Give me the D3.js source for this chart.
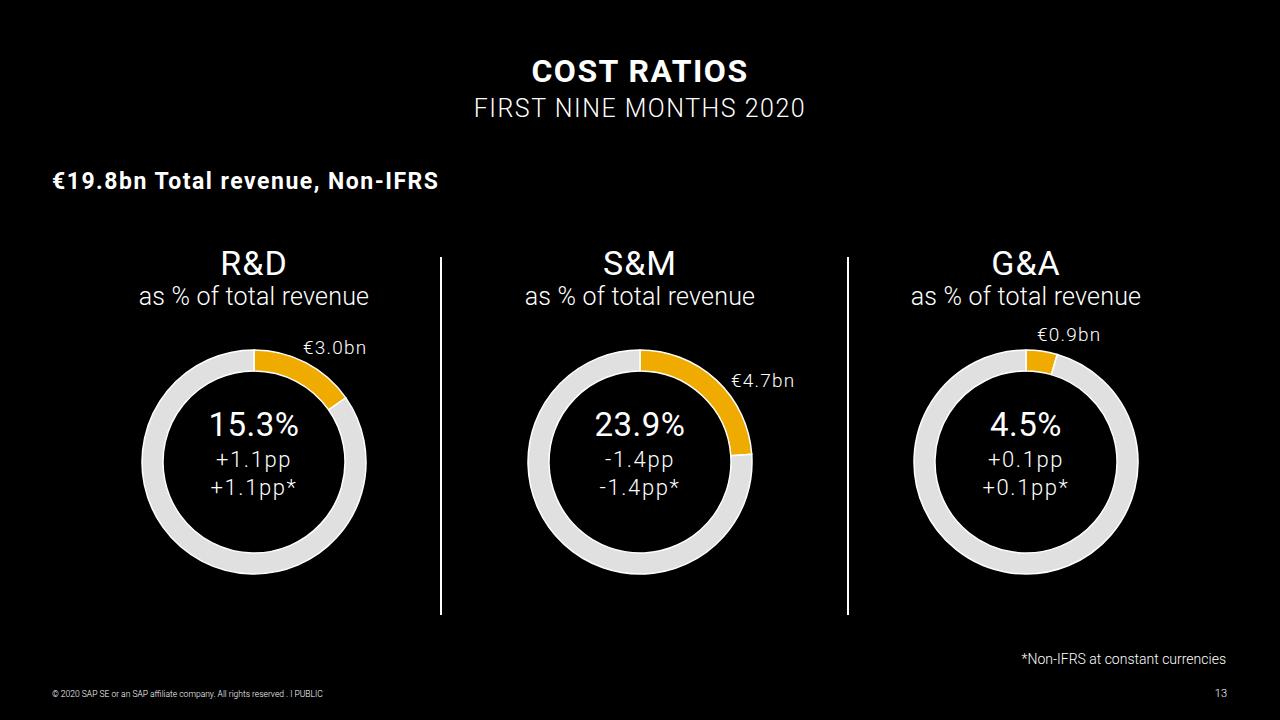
<!DOCTYPE html>
<html>
<head>
<meta charset="utf-8">
<script src="https://cdn.jsdelivr.net/npm/d3@7/dist/d3.min.js"></script>
<style>
  html, body { margin: 0; padding: 0; background: #000; }
  svg { display: block; font-family: Roboto, "Noto Sans", sans-serif; }
</style>
</head>
<body>
<svg id="chart" width="1280" height="720"></svg>
<script>
const categories = ["R&D", "S&M", "G&A"];
const ratios = [15.3, 23.9, 4.5];
const amounts = ["€3.0bn", "€4.7bn", "€0.9bn"];
const changes = ["+1.1pp", "-1.4pp", "+0.1pp"];
const changesCC = ["+1.1pp*", "-1.4pp*", "+0.1pp*"];

const svg = d3.select("#chart");
const W = 1280;

svg.append("rect").attr("width", W).attr("height", 720).attr("fill", "#000");

svg.append("text").attr("x", 640).attr("y", 82).attr("text-anchor", "middle")
  .attr("fill", "#fff").attr("font-size", 32).attr("font-weight", 700)
  .attr("letter-spacing", 1.5)
  .text("COST RATIOS");
svg.append("text").attr("x", 640).attr("y", 117).attr("text-anchor", "middle")
  .attr("fill", "#fff").attr("font-size", 25).attr("font-weight", 300)
  .attr("letter-spacing", 1.5)
  .text("FIRST NINE MONTHS 2020");

svg.append("text").attr("x", 52).attr("y", 189)
  .attr("fill", "#fff").attr("font-size", 23).attr("font-weight", 700)
  .attr("letter-spacing", 1.5)
  .text("€19.8bn Total revenue, Non-IFRS");

const x = d3.scalePoint().domain(categories).range([254, 1026]);
const cy = 462;
const outerR = 112, innerR = 91;

const pie = d3.pie().sort(null).value(d => d.v);
const arc = d3.arc().innerRadius(innerR).outerRadius(outerR);

// dividers
const dividerX = [441, 848];
dividerX.forEach(dx => {
  svg.append("line").attr("x1", dx).attr("x2", dx).attr("y1", 257).attr("y2", 615)
    .attr("stroke", "#fff").attr("stroke-width", 2);
});

const labelPos = [
  {x: 303, y: 354},
  {x: 731, y: 387},
  {x: 1037, y: 341}
];

categories.forEach((c, i) => {
  const cx = x(c);
  const g = svg.append("g");
  g.append("text").attr("x", cx).attr("y", 275).attr("text-anchor", "middle")
    .attr("fill", "#fff").attr("font-size", 34).attr("font-weight", 400)
    .attr("letter-spacing", 1).text(c);
  g.append("text").attr("x", cx).attr("y", 305).attr("text-anchor", "middle")
    .attr("fill", "#fff").attr("font-size", 25).attr("font-weight", 300)
    .attr("letter-spacing", 0.2).text("as % of total revenue");

  const dg = g.append("g").attr("transform", `translate(${cx},${cy})`);
  dg.selectAll("path").data(pie([{v: ratios[i], k: "a"}, {v: 100 - ratios[i], k: "b"}]))
    .join("path")
    .attr("d", arc)
    .attr("fill", d => d.data.k === "a" ? "#F0AB00" : "#E0E0E0")
    .attr("stroke", "#fff").attr("stroke-width", 1.5);

  g.append("text").attr("x", cx).attr("y", 436).attr("text-anchor", "middle")
    .attr("fill", "#fff").attr("font-size", 33).attr("font-weight", 400)
    .attr("letter-spacing", 0.5).text(ratios[i].toFixed(1) + "%");
  g.append("text").attr("x", cx).attr("y", 467).attr("text-anchor", "middle")
    .attr("fill", "#fff").attr("font-size", 22).attr("font-weight", 300)
    .attr("letter-spacing", 1.6).text(changes[i]);
  g.append("text").attr("x", cx).attr("y", 495).attr("text-anchor", "middle")
    .attr("fill", "#fff").attr("font-size", 22).attr("font-weight", 300)
    .attr("letter-spacing", 1.6).text(changesCC[i]);

  g.append("text").attr("x", labelPos[i].x).attr("y", labelPos[i].y).attr("text-anchor", "start")
    .attr("fill", "#fff").attr("font-size", 19).attr("font-weight", 300)
    .attr("letter-spacing", 1.2).text(amounts[i]);
});

svg.append("text").attr("x", 1226).attr("y", 664).attr("text-anchor", "end")
  .attr("fill", "#fff").attr("font-size", 14).attr("font-weight", 300)
  .text("*Non-IFRS at constant currencies");
svg.append("text").attr("x", 1227).attr("y", 697).attr("text-anchor", "end")
  .attr("fill", "#fff").attr("font-size", 11).attr("font-weight", 300).text("13");
svg.append("text").attr("x", 52).attr("y", 697)
  .attr("fill", "#fff").attr("font-size", 8.5).attr("font-weight", 300)
  .text("© 2020 SAP SE or an SAP affiliate company. All rights reserved .  I     PUBLIC");
</script>
</body>
</html>
